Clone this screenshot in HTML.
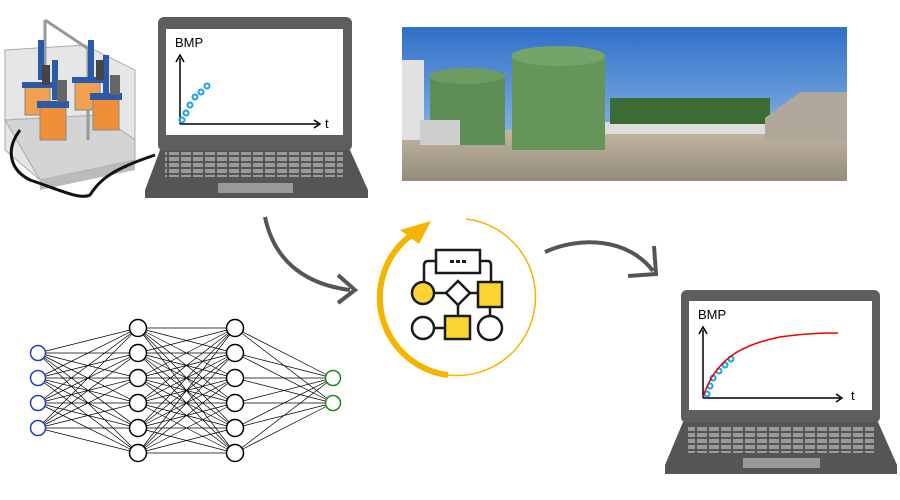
<!DOCTYPE html>
<html><head><style>body{margin:0;background:#fff}svg{display:block}</style></head><body>
<svg width="900" height="500" viewBox="0 0 900 500" xmlns="http://www.w3.org/2000/svg" font-family="Liberation Sans, sans-serif">
<defs>
<linearGradient id="sky" x1="0" y1="0" x2="0" y2="1"><stop offset="0" stop-color="#2f6fc8"/><stop offset="1" stop-color="#a8cdef"/></linearGradient>
<linearGradient id="grav" x1="0" y1="0" x2="0" y2="1"><stop offset="0" stop-color="#c0b6a2"/><stop offset="1" stop-color="#958b7a"/></linearGradient>
<pattern id="keys" width="12" height="6" patternUnits="userSpaceOnUse"><rect width="12" height="6" fill="#555"/><rect x="1" y="1" width="10" height="4" fill="#999"/></pattern>
</defs>
<!-- bioreactor equipment -->
<polygon points="5,50 85,45 135,70 135,160 40,180 5,150" fill="#e6e6e6" stroke="#aaa"/>
<polygon points="5,120 40,180 135,160 135,140 100,115" fill="#d4d4d4" stroke="#aaa"/>
<polygon points="40,180 135,160 135,170 40,190" fill="#bbb"/>
<line x1="45" y1="20" x2="45" y2="110" stroke="#999" stroke-width="3"/>
<line x1="45" y1="20" x2="90" y2="50" stroke="#999" stroke-width="3"/>
<line x1="88" y1="50" x2="88" y2="140" stroke="#999" stroke-width="3"/>
<g>
<rect x="25" y="85" width="25" height="30" fill="#f0a050" stroke="#888"/><rect x="22" y="82" width="31" height="6" fill="#2a5aa8"/>
<rect x="75" y="80" width="25" height="30" fill="#f0a050" stroke="#888"/><rect x="72" y="77" width="31" height="6" fill="#2a5aa8"/>
<rect x="40" y="105" width="26" height="35" fill="#f08f3a" stroke="#888"/><rect x="37" y="101" width="32" height="7" fill="#2a5aa8"/>
<rect x="93" y="97" width="26" height="33" fill="#f08f3a" stroke="#888"/><rect x="90" y="93" width="32" height="7" fill="#2a5aa8"/>
<rect x="38" y="40" width="6" height="40" fill="#2a5aa8"/><rect x="52" y="60" width="6" height="40" fill="#2a5aa8"/>
<rect x="88" y="40" width="6" height="40" fill="#2a5aa8"/><rect x="103" y="55" width="6" height="40" fill="#2a5aa8"/>
<rect x="57" y="80" width="10" height="22" fill="#666"/><rect x="110" y="75" width="10" height="20" fill="#666"/>
<rect x="42" y="65" width="8" height="20" fill="#444"/><rect x="96" y="60" width="8" height="20" fill="#444"/>
</g>
<path d="M20,130 C5,150 10,170 30,180 C60,190 80,200 90,195 C100,180 110,170 155,155" fill="none" stroke="#111" stroke-width="3"/>
<!-- laptop 1 -->
<rect x="158" y="17" width="194" height="134" rx="6" fill="#5e5e5e"/>
<rect x="166" y="29" width="177" height="106" fill="#fff"/>
<polygon points="160,150 350,150 368,190 368,198 145,198 145,190" fill="#555"/>
<rect x="165" y="152" width="178" height="25" fill="url(#keys)"/>
<rect x="218" y="183" width="75" height="10" fill="#999"/>
<text x="175" y="47" font-size="13">BMP</text>
<line x1="180" y1="124" x2="318" y2="124" stroke="#000" stroke-width="1.5"/>
<line x1="180" y1="124" x2="180" y2="58" stroke="#000" stroke-width="1.5"/>
<path d="M176,62 L180,55 L184,62 M314,120 L320,124 L314,128" fill="none" stroke="#000" stroke-width="1.5"/>
<text x="325" y="128" font-size="13">t</text>
<g fill="none" stroke="#19a3e8" stroke-width="2"><circle cx="182" cy="120" r="2.5"/><circle cx="186" cy="113" r="2.5"/><circle cx="190" cy="105" r="2.5"/><circle cx="195" cy="97" r="2.5"/><circle cx="201" cy="92" r="2.5"/><circle cx="207" cy="86" r="2.5"/></g>
<!-- photo -->
<rect x="402" y="27" width="445" height="154" fill="url(#sky)"/>
<rect x="402" y="130" width="445" height="51" fill="url(#grav)"/>
<rect x="605" y="122" width="160" height="12" fill="#ddd"/>
<rect x="610" y="98" width="160" height="26" fill="#3d6b34"/>
<polygon points="765,118 800,92 847,92 847,140 765,140" fill="#b0a89a"/>
<rect x="402" y="60" width="22" height="80" fill="#e0e0e0"/>
<rect x="430" y="75" width="75" height="70" fill="#5e8e56"/>
<ellipse cx="467" cy="76" rx="38" ry="8" fill="#6c9c60"/>
<rect x="512" y="55" width="93" height="95" fill="#659558"/>
<ellipse cx="558" cy="56" rx="47" ry="10" fill="#75a468"/>
<rect x="420" y="120" width="40" height="25" fill="#cfcfcf"/>
<!-- arrows -->
<path d="M265,217 C275,265 310,285 350,290" fill="none" stroke="#555" stroke-width="4"/>
<path d="M338,275 L355,290 L338,303" fill="none" stroke="#555" stroke-width="4"/>
<path d="M545,252 C580,236 628,238 653,271" fill="none" stroke="#555" stroke-width="4"/>
<path d="M654,246 L656,274 L628,276" fill="none" stroke="#555" stroke-width="4"/>
<!-- cycle circle -->
<path d="M466,219 A78,78 0 0 1 448,375" fill="none" stroke="#f5b400" stroke-width="1.5"/>
<path d="M448,375 A78,78 0 0 1 410,236" fill="none" stroke="#f5b400" stroke-width="6"/>
<polygon points="400,230 431,221 419,244" fill="#f5b400"/>
<g stroke="#1a1a1a" stroke-width="2.5" fill="none">
<path d="M436,261 L428,261 Q424,261 424,266 L424,282 M480,261 L488,261 Q491,261 491,266 L491,282"/>
<line x1="434" y1="293" x2="446" y2="293"/><line x1="470" y1="293" x2="478" y2="293"/>
<line x1="458" y1="305" x2="458" y2="316"/><line x1="434" y1="328" x2="445" y2="328"/>
<line x1="490" y1="307" x2="490" y2="317"/>
<rect x="436" y="250" width="44" height="23" fill="#fff"/>
<circle cx="423" cy="293" r="11" fill="#fcd535"/>
<polygon points="458,281 470,293 458,305 446,293" fill="#fff"/>
<rect x="478" y="282" width="24" height="25" fill="#fcd535"/>
<circle cx="423" cy="328" r="11" fill="#fff"/>
<rect x="445" y="316" width="25" height="23" fill="#fcd535"/>
<circle cx="490" cy="328" r="12" fill="#fff"/>
</g>
<g fill="#1a1a1a"><rect x="450" y="260" width="4" height="3"/><rect x="456" y="260" width="4" height="3"/><rect x="462" y="260" width="4" height="3"/></g>
<!-- neural net -->
<g stroke="#000" stroke-width="0.7">
<path d="M38,353 L138,328 M38,353 L138,353 M38,353 L138,378 M38,353 L138,403 M38,353 L138,428 M38,353 L138,453 M38,378 L138,328 M38,378 L138,353 M38,378 L138,378 M38,378 L138,403 M38,378 L138,428 M38,378 L138,453 M38,403 L138,328 M38,403 L138,353 M38,403 L138,378 M38,403 L138,403 M38,403 L138,428 M38,403 L138,453 M38,428 L138,328 M38,428 L138,353 M38,428 L138,378 M38,428 L138,403 M38,428 L138,428 M38,428 L138,453"/>
<path d="M138,328 L235,328 M138,328 L235,353 M138,328 L235,378 M138,328 L235,403 M138,328 L235,428 M138,328 L235,453 M138,353 L235,328 M138,353 L235,353 M138,353 L235,378 M138,353 L235,403 M138,353 L235,428 M138,353 L235,453 M138,378 L235,328 M138,378 L235,353 M138,378 L235,378 M138,378 L235,403 M138,378 L235,428 M138,378 L235,453 M138,403 L235,328 M138,403 L235,353 M138,403 L235,378 M138,403 L235,403 M138,403 L235,428 M138,403 L235,453 M138,428 L235,328 M138,428 L235,353 M138,428 L235,378 M138,428 L235,403 M138,428 L235,428 M138,428 L235,453 M138,453 L235,328 M138,453 L235,353 M138,453 L235,378 M138,453 L235,403 M138,453 L235,428 M138,453 L235,453"/>
<path d="M235,328 L333,378 M235,353 L333,378 M235,378 L333,378 M235,403 L333,378 M235,428 L333,378 M235,453 L333,378 M235,328 L333,403 M235,353 L333,403 M235,378 L333,403 M235,403 L333,403 M235,428 L333,403 M235,453 L333,403"/>
</g>
<g fill="#fff" stroke-width="1.5">
<g stroke="#1f3fc0"><circle cx="38" cy="353" r="7.5"/><circle cx="38" cy="378" r="7.5"/><circle cx="38" cy="403" r="7.5"/><circle cx="38" cy="428" r="7.5"/></g>
<g stroke="#000"><circle cx="138" cy="328" r="8.5"/><circle cx="138" cy="353" r="8.5"/><circle cx="138" cy="378" r="8.5"/><circle cx="138" cy="403" r="8.5"/><circle cx="138" cy="428" r="8.5"/><circle cx="138" cy="453" r="8.5"/>
<circle cx="235" cy="328" r="8.5"/><circle cx="235" cy="353" r="8.5"/><circle cx="235" cy="378" r="8.5"/><circle cx="235" cy="403" r="8.5"/><circle cx="235" cy="428" r="8.5"/><circle cx="235" cy="453" r="8.5"/></g>
<g stroke="#1a8a1a"><circle cx="333" cy="378" r="7.5"/><circle cx="333" cy="403" r="7.5"/></g>
</g>
<!-- laptop 2 -->
<rect x="681" y="290" width="199" height="133" rx="6" fill="#5e5e5e"/>
<rect x="689" y="301" width="183" height="109" fill="#fff"/>
<polygon points="683,422 878,422 897,465 897,474 665,474 665,465" fill="#555"/>
<rect x="688" y="425" width="186" height="28" fill="url(#keys)"/>
<rect x="743" y="458" width="77" height="10" fill="#999"/>
<text x="698" y="319" font-size="13">BMP</text>
<line x1="703" y1="398" x2="840" y2="398" stroke="#000" stroke-width="1.5"/>
<line x1="703" y1="398" x2="703" y2="330" stroke="#000" stroke-width="1.5"/>
<path d="M699,334 L703,327 L707,334 M836,394 L842,398 L836,402" fill="none" stroke="#000" stroke-width="1.5"/>
<text x="851" y="400" font-size="13">t</text>
<g fill="none" stroke="#19a3e8" stroke-width="2"><circle cx="707" cy="394" r="2.5"/><circle cx="710" cy="386" r="2.5"/><circle cx="713" cy="378" r="2.5"/><circle cx="719" cy="371" r="2.5"/><circle cx="725" cy="365" r="2.5"/><circle cx="731" cy="359" r="2.5"/></g>
<path d="M703,397 C715,360 740,345 780,337 C810,333 825,333 838,333" fill="none" stroke="#e00" stroke-width="1.5"/>
</svg>
</body></html>
